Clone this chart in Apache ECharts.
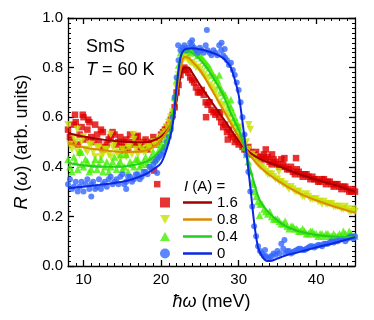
<!DOCTYPE html>
<html>
<head>
<meta charset="utf-8">
<script src="https://cdn.jsdelivr.net/npm/echarts@6/dist/echarts.min.js"></script>
<style>
  html, body { margin: 0; padding: 0; background: #fff; }
  #main { width: 374px; height: 320px; }
</style>
</head>
<body>
<div id="main"></div>
<script>
// photon energy grids of the measured points (meV)
var energy = [8, 8.5, 9, 9.5, 10, 10.5, 11, 11.5, 12, 12.5, 13, 13.5, 14, 14.5, 15, 15.5, 16, 16.5, 17, 17.5,
  18, 18.5, 19, 19.5, 20, 20.5, 21, 21.5, 22, 22.5, 23, 23.5, 24, 24.5, 25, 25.5, 26, 26.5, 27, 27.5,
  28, 28.5, 29, 29.5, 30, 30.5, 31, 31.5, 32, 32.5, 33, 33.5, 34, 34.5, 35, 35.5, 36, 36.5, 37, 37.5,
  38, 38.5, 39, 39.5, 40, 40.5, 41, 41.5, 42, 42.5, 43, 43.5, 44, 44.5, 45];
var energyB = [8.25, 8.75, 9.25, 9.75, 10.25, 10.75, 11.25, 11.75, 12.25, 12.75, 13.25, 13.75, 14.25, 14.75, 15.25, 15.75,
  16.25, 16.75, 17.25, 17.75, 18.25, 18.75, 19.25, 19.75, 20.25, 20.75, 21.25, 21.75, 22.25, 22.75, 23.25, 23.75,
  24.25, 24.75, 25.25, 25.75, 26.25, 26.75, 27.25, 27.75, 28.25, 28.75, 29.25, 29.75, 30.25, 30.75, 31.25, 31.75,
  32.25, 32.75, 33.25, 33.75, 34.25, 34.75, 35.25, 35.75, 36.25, 36.75, 37.25, 37.75, 38.25, 38.75, 39.25, 39.75,
  40.25, 40.75, 41.25, 41.75, 42.25, 42.75, 43.25, 43.75, 44.25, 44.75];

// measured reflectivity, one list per current (on energy)
var refl16 = [0.55, 0.50, 0.58, 0.53, 0.60, 0.55, 0.52, 0.57, 0.50, 0.54, 0.49, 0.52, 0.53, 0.50, 0.48, 0.51, 0.53, 0.49, 0.50, 0.47,
  0.51, 0.49, 0.52, 0.50, 0.53, 0.55, 0.57, 0.61, 0.70, 0.77, 0.80, 0.78, 0.75, 0.72, 0.70, 0.69, 0.65, 0.63, 0.61, 0.60,
  0.56, 0.54, 0.53, 0.50, 0.49, 0.48, 0.47, 0.46, 0.45, 0.44, 0.44, 0.43, 0.42, 0.43, 0.41, 0.43, 0.40, 0.39, 0.38, 0.39,
  0.37, 0.37, 0.36, 0.36, 0.35, 0.34, 0.35, 0.34, 0.33, 0.33, 0.32, 0.32, 0.31, 0.30, 0.30];
var refl08 = [0.57, 0.47, 0.50, 0.45, 0.52, 0.46, 0.49, 0.44, 0.48, 0.45, 0.47, 0.44, 0.49, 0.45, 0.47, 0.44, 0.48, 0.51, 0.45, 0.47,
  0.46, 0.48, 0.50, 0.49, 0.52, 0.54, 0.58, 0.62, 0.72, 0.81, 0.84, 0.83, 0.82, 0.80, 0.79, 0.77, 0.75, 0.72, 0.70, 0.66,
  0.64, 0.61, 0.58, 0.56, 0.53, 0.51, 0.50, 0.55, 0.44, 0.41, 0.40, 0.38, 0.37, 0.36, 0.35, 0.34, 0.33, 0.31, 0.31, 0.30,
  0.29, 0.28, 0.28, 0.27, 0.27, 0.26, 0.26, 0.25, 0.25, 0.24, 0.24, 0.23, 0.23, 0.22, 0.22];
var refl04 = [0.43, 0.38, 0.42, 0.46, 0.40, 0.42, 0.39, 0.43, 0.41, 0.38, 0.42, 0.40, 0.44, 0.41, 0.39, 0.45, 0.42, 0.40, 0.43, 0.41,
  0.44, 0.43, 0.46, 0.45, 0.49, 0.51, 0.55, 0.62, 0.75, 0.86, 0.88, 0.87, 0.87, 0.86, 0.85, 0.83, 0.81, 0.78, 0.76, 0.73,
  0.70, 0.67, 0.64, 0.60, 0.56, 0.51, 0.45, 0.38, 0.30, 0.26, 0.25, 0.22, 0.22, 0.19, 0.19, 0.17, 0.18, 0.15, 0.16, 0.15,
  0.14, 0.14, 0.13, 0.14, 0.13, 0.13, 0.12, 0.13, 0.12, 0.12, 0.13, 0.14, 0.12, 0.13, 0.12];
var refl0 = [0.33, 0.31, 0.34, 0.32, 0.30, 0.35, 0.33, 0.31, 0.35, 0.33, 0.32, 0.36, 0.34, 0.33, 0.37, 0.34, 0.36, 0.35, 0.37, 0.36,
  0.38, 0.40, 0.41, 0.43, 0.45, 0.48, 0.52, 0.60, 0.76, 0.87, 0.89, 0.88, 0.89, 0.87, 0.88, 0.86, 0.87, 0.85, 0.86, 0.89,
  0.85, 0.83, 0.82, 0.77, 0.71, 0.60, 0.45, 0.30, 0.16, 0.08, 0.05, 0.04, 0.035, 0.05, 0.06, 0.09, 0.05, 0.06, 0.055, 0.065,
  0.07, 0.065, 0.075, 0.08, 0.08, 0.085, 0.09, 0.09, 0.10, 0.10, 0.105, 0.11, 0.11, 0.12, 0.12];

// the in-between points (on energyB)
var refl16B = [0.52, 0.57, 0.49, 0.56, 0.51, 0.58, 0.50, 0.53, 0.55, 0.48, 0.51, 0.54, 0.49, 0.52, 0.50, 0.47,
  0.50, 0.52, 0.48, 0.50, 0.47, 0.50, 0.49, 0.51, 0.54, 0.56, 0.59, 0.64, 0.73, 0.79, 0.79, 0.76,
  0.74, 0.70, 0.71, 0.66, 0.66, 0.62, 0.62, 0.58, 0.57, 0.55, 0.52, 0.51, 0.50, 0.47, 0.48, 0.45,
  0.46, 0.43, 0.45, 0.44, 0.41, 0.42, 0.40, 0.41, 0.39, 0.40, 0.37, 0.38, 0.36, 0.37, 0.35, 0.35,
  0.34, 0.35, 0.33, 0.34, 0.32, 0.33, 0.31, 0.32, 0.30, 0.31];
var refl08B = [0.49, 0.52, 0.46, 0.50, 0.47, 0.49, 0.46, 0.48, 0.44, 0.47, 0.45, 0.48, 0.46, 0.43, 0.46, 0.48,
  0.45, 0.47, 0.49, 0.46, 0.48, 0.47, 0.49, 0.51, 0.53, 0.56, 0.60, 0.66, 0.77, 0.83, 0.84, 0.82,
  0.81, 0.80, 0.78, 0.76, 0.73, 0.71, 0.68, 0.65, 0.62, 0.60, 0.57, 0.54, 0.52, 0.49, 0.47, 0.45,
  0.42, 0.40, 0.39, 0.37, 0.37, 0.35, 0.34, 0.33, 0.32, 0.32, 0.30, 0.30, 0.28, 0.29, 0.27, 0.27,
  0.26, 0.25, 0.25, 0.25, 0.24, 0.24, 0.23, 0.24, 0.22, 0.23];
var refl04B = [0.40, 0.44, 0.39, 0.41, 0.43, 0.38, 0.41, 0.39, 0.43, 0.40, 0.38, 0.42, 0.39, 0.42, 0.40, 0.38,
  0.41, 0.43, 0.40, 0.42, 0.41, 0.44, 0.43, 0.47, 0.48, 0.53, 0.57, 0.68, 0.81, 0.87, 0.88, 0.86,
  0.88, 0.85, 0.84, 0.82, 0.80, 0.77, 0.75, 0.71, 0.69, 0.65, 0.62, 0.58, 0.53, 0.48, 0.42, 0.34,
  0.28, 0.25, 0.23, 0.21, 0.20, 0.19, 0.18, 0.17, 0.16, 0.16, 0.15, 0.14, 0.15, 0.13, 0.14, 0.13,
  0.12, 0.13, 0.13, 0.12, 0.13, 0.12, 0.12, 0.13, 0.14, 0.12];
var refl0B = [0.35, 0.32, 0.30, 0.34, 0.33, 0.31, 0.34, 0.32, 0.31, 0.34, 0.35, 0.33, 0.35, 0.36, 0.33, 0.36,
  0.34, 0.37, 0.35, 0.38, 0.37, 0.39, 0.42, 0.44, 0.46, 0.50, 0.55, 0.68, 0.83, 0.88, 0.87, 0.90,
  0.88, 0.86, 0.87, 0.89, 0.86, 0.87, 0.85, 0.87, 0.84, 0.81, 0.79, 0.74, 0.66, 0.53, 0.38, 0.24,
  0.12, 0.06, 0.04, 0.03, 0.04, 0.045, 0.05, 0.07, 0.06, 0.05, 0.06, 0.07, 0.065, 0.07, 0.08, 0.075,
  0.085, 0.08, 0.09, 0.095, 0.095, 0.10, 0.11, 0.10, 0.115, 0.11];

// scattered points off the grids
var extra16 = [[8.9, 0.61], [9.9, 0.61], [10.6, 0.59], [12.5, 0.47], [15.3, 0.465], [17, 0.525], [19.1, 0.385], [19.5, 0.33],
  [25.8, 0.60], [27.6, 0.62], [28.6, 0.51], [33.5, 0.47], [34.3, 0.45], [35.9, 0.435], [37.4, 0.435]];
var extra08 = [[9.2, 0.55], [13.5, 0.53], [16.4, 0.53], [31.3, 0.57], [35.2, 0.38], [30.2, 0.56]];
var extra04 = [[9.7, 0.46], [14.8, 0.45], [32.7, 0.205], [31.9, 0.33], [27.5, 0.77], [29, 0.67]];
var extra0 = [[11, 0.28], [15.5, 0.31], [19.5, 0.375], [22.2, 0.89], [24, 0.91], [25.9, 0.952], [27.8, 0.90], [28.2, 0.875],
  [33.4, 0.065], [35.9, 0.105]];

// model curves
var fitE16 = [8, 10, 12, 14, 16, 18, 19, 20, 21, 21.5, 22, 22.5, 23, 23.5, 24, 25, 26, 27, 28, 29, 30, 31, 32, 33, 34, 35, 36, 38, 40, 42, 44, 45];
var fitR16 = [0.535, 0.522, 0.512, 0.504, 0.500, 0.499, 0.506, 0.522, 0.556, 0.585, 0.665, 0.76, 0.80, 0.80, 0.78, 0.73, 0.685, 0.64, 0.595, 0.55, 0.505, 0.47, 0.445, 0.428, 0.416, 0.404, 0.392, 0.368, 0.348, 0.33, 0.31, 0.30];
var fitE08 = [8, 10, 12, 14, 16, 18, 19, 20, 21, 21.5, 22, 22.5, 23, 23.5, 24, 25, 26, 27, 28, 29, 30, 31, 32, 33, 34, 35, 36, 38, 40, 42, 44, 45];
var fitR08 = [0.495, 0.479, 0.469, 0.462, 0.460, 0.466, 0.48, 0.508, 0.555, 0.59, 0.69, 0.79, 0.843, 0.84, 0.825, 0.79, 0.74, 0.685, 0.63, 0.575, 0.52, 0.468, 0.425, 0.392, 0.367, 0.345, 0.325, 0.29, 0.265, 0.243, 0.224, 0.215];
var fitE04 = [8, 10, 12, 14, 16, 18, 19, 20, 21, 21.5, 22, 22.5, 23, 23.5, 24, 25, 26, 27, 28, 29, 30, 30.5, 31, 31.5, 32, 32.5, 33, 34, 35, 36, 37, 38, 40, 42, 45];
var fitR04 = [0.415, 0.405, 0.401, 0.40, 0.404, 0.42, 0.438, 0.47, 0.52, 0.60, 0.73, 0.84, 0.865, 0.866, 0.86, 0.833, 0.795, 0.745, 0.69, 0.615, 0.55, 0.505, 0.45, 0.39, 0.335, 0.283, 0.25, 0.212, 0.183, 0.162, 0.148, 0.138, 0.125, 0.119, 0.116];
var fitE0 = [8, 10, 12, 14, 16, 18, 19, 20, 21, 21.5, 22, 22.5, 23, 24, 25, 26, 27, 28, 28.5, 29, 29.5, 30, 30.5, 31, 31.5, 32, 32.5, 33, 33.5, 34, 35, 36, 38, 40, 42, 44, 45];
var fitR0 = [0.313, 0.32, 0.327, 0.335, 0.347, 0.37, 0.39, 0.415, 0.50, 0.57, 0.72, 0.84, 0.872, 0.878, 0.874, 0.866, 0.855, 0.838, 0.822, 0.80, 0.752, 0.69, 0.58, 0.456, 0.32, 0.175, 0.075, 0.04, 0.022, 0.02, 0.03, 0.042, 0.058, 0.075, 0.09, 0.107, 0.116];

var currents = ['1.6', '0.8', '0.4', '0'];
var majorTicks = [10, 20, 30, 40];

var font = 'Liberation Sans, Arial, sans-serif';

function pairs(xs, ys) {
  var out = [];
  for (var i = 0; i < xs.length; i++) out.push([xs[i], ys[i]]);
  return out;
}

var myChart = echarts.init(document.getElementById('main'));

function xAx(pos, major, labels) {
  return {
    type: 'value', position: pos, min: 8, max: 45,
    interval: major ? undefined : 1,
    axisLine: { show: major, lineStyle: { color: '#000', width: 1.3 } },
    axisTick: major
      ? { inside: true, length: 6, customValues: majorTicks, lineStyle: { color: '#000', width: 1.3 } }
      : { inside: true, length: 3, lineStyle: { color: '#000', width: 1 } },
    axisLabel: labels
      ? { show: true, customValues: majorTicks, margin: 6, color: '#000', fontSize: 15, fontFamily: font }
      : { show: false },
    splitLine: { show: false }
  };
}
function yAx(pos, labels) {
  return {
    type: 'value', position: pos, min: 0, max: 1, interval: 0.2,
    axisLine: { show: true, lineStyle: { color: '#000', width: 1.3 } },
    axisTick: { inside: true, length: 6, lineStyle: { color: '#000', width: 1.3 } },
    minorTick: { show: true, splitNumber: 10, length: 3, lineStyle: { color: '#000', width: 1 } },
    axisLabel: labels
      ? { show: true, margin: 5, color: '#000', fontSize: 15, fontFamily: font, formatter: function (v) { return v.toFixed(1); } }
      : { show: false },
    splitLine: { show: false },
    minorSplitLine: { show: false }
  };
}

var xMain = xAx('bottom', true, true);
xMain.name = '{i|ħω} (meV)';
xMain.nameLocation = 'middle';
xMain.nameGap = 27;
xMain.nameTextStyle = { color: '#000', fontSize: 18, fontFamily: font, rich: { i: { fontStyle: 'italic', fontSize: 18, fontFamily: font, color: '#000' } } };

var yMain = yAx('left', true);
yMain.name = '{i|R} ({i|ω}) (arb. units)';
yMain.nameLocation = 'middle';
yMain.nameGap = 34;
yMain.nameTextStyle = { color: '#000', fontSize: 18, fontFamily: font, rich: { i: { fontStyle: 'italic', fontSize: 18, fontFamily: font, color: '#000' } } };

var markColors = ['#e00000', '#c8e000', '#44ee00', '#3366ff'];
var lineColors = ['#a00000', '#dc8a00', '#22cc22', '#0a28e0'];
var symbols = ['rect', 'path://M0,0 L10,0 L5,9 Z', 'path://M5,0 L10,9 L0,9 Z', 'circle'];
var sizes = [6.5, 7.5, 7.5, 6];
var measured = [refl16, refl08, refl04, refl0];
var measuredB = [refl16B, refl08B, refl04B, refl0B];
var extras = [extra16, extra08, extra04, extra0];
var fits = [[fitE16, fitR16], [fitE08, fitR08], [fitE04, fitR04], [fitE0, fitR0]];

var series = [];
for (var k = 0; k < 4; k++) {
  series.push({
    name: 'pts ' + currents[k],
    type: 'scatter',
    data: pairs(energy, measured[k]).concat(pairs(energyB, measuredB[k]), extras[k]),
    symbol: symbols[k], symbolSize: sizes[k],
    itemStyle: { color: markColors[k] },
    z: 2, silent: true
  });
}
for (var k = 0; k < 4; k++) {
  series.push({
    name: currents[k],
    type: 'line',
    data: pairs(fits[k][0], fits[k][1]),
    smooth: 0.35, showSymbol: false, symbol: 'none',
    lineStyle: { color: lineColors[k], width: 2 },
    itemStyle: { color: lineColors[k] },
    z: 3, silent: true
  });
}

var option = {
  animation: false,
  backgroundColor: '#fff',
  grid: { left: 68, right: 19, top: 18, bottom: 54 },
  xAxis: [xMain, xAx('bottom', false, false), xAx('top', true, false), xAx('top', false, false)],
  yAxis: [yMain, yAx('right', false)],
  legend: [{
    data: currents.map(function (c) { return 'pts ' + c; }),
    orient: 'vertical', left: 160, top: 194, padding: 0, itemGap: 0,
    itemWidth: 10, itemHeight: 10,
    formatter: function () { return ' '; },
    textStyle: { fontSize: 15, lineHeight: 17 },
    selectedMode: false
  }, {
    data: currents,
    orient: 'vertical', left: 183, top: 194, padding: 0, itemGap: 0,
    icon: 'rect', itemWidth: 29, itemHeight: 2.5,
    textStyle: { fontSize: 15, lineHeight: 17, color: '#000', fontFamily: font },
    selectedMode: false
  }],
  graphic: [
    { type: 'text', left: 86, top: 38, style: { text: 'SmS', fontSize: 18, fontFamily: font, fill: '#000' } },
    { type: 'text', left: 86, top: 61, style: { text: '{i|T} = 60 K', fontSize: 18, fontFamily: font, fill: '#000',
        rich: { i: { fontStyle: 'italic', fontSize: 18, fontFamily: font } } } },
    { type: 'text', left: 184, top: 179, style: { text: '{i|I} (A) =', fontSize: 15, fontFamily: font, fill: '#000',
        rich: { i: { fontStyle: 'italic', fontSize: 15, fontFamily: font } } } }
  ],
  series: series
};
myChart.setOption(option);
</script>
</body>
</html>
